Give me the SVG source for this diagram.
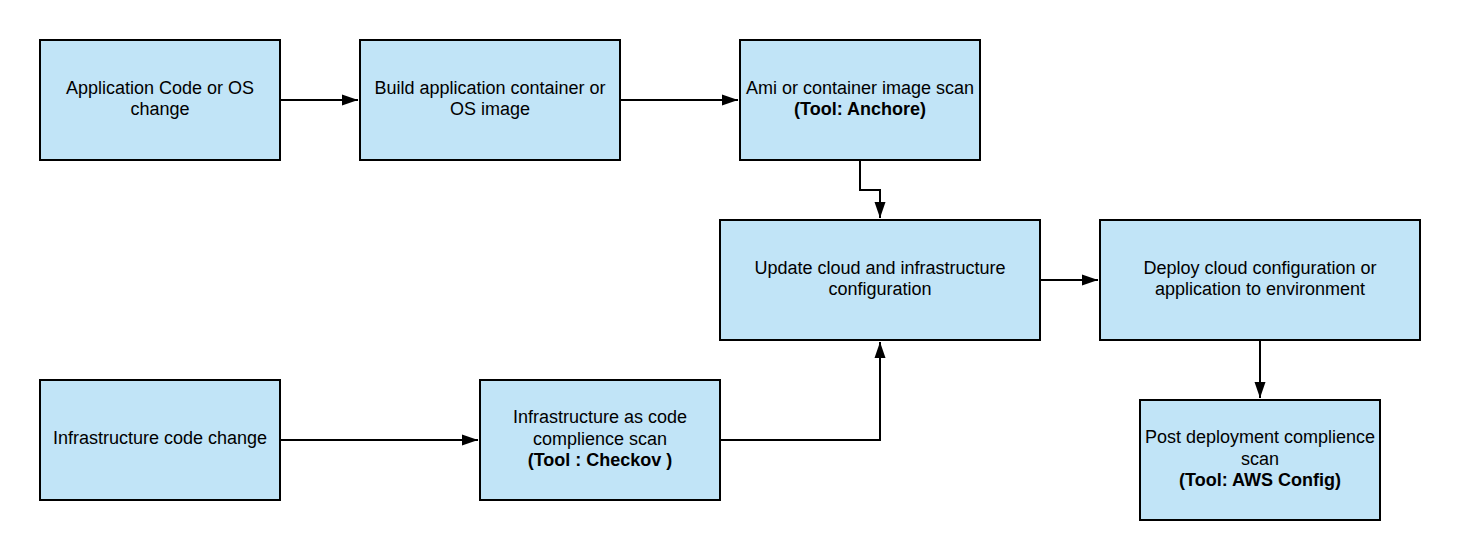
<svg xmlns="http://www.w3.org/2000/svg" width="1460" height="560" viewBox="0 0 1460 560">
<style>
.box{fill:#c1e4f7;stroke:#000;stroke-width:2}
.t{font-family:"Liberation Sans",Arial,sans-serif;font-size:18px;fill:#000;text-anchor:middle}
.b{font-weight:bold}
.c{fill:none;stroke:#000;stroke-width:2}
</style>
<defs>
<marker id="ah" markerWidth="16" markerHeight="12" refX="16" refY="6" orient="auto" markerUnits="userSpaceOnUse">
<path d="M0,0.5 L16,6 L0,11.5 Z" fill="#000"/>
</marker>
</defs>
<rect width="1460" height="560" fill="#fff"/>
<g id="connectors">
<path class="c" d="M280,100 H358" marker-end="url(#ah)"/>
<path class="c" d="M620,100 H738" marker-end="url(#ah)"/>
<path class="c" d="M860,160 V190 H880 V218" marker-end="url(#ah)"/>
<path class="c" d="M1040,280 H1098" marker-end="url(#ah)"/>
<path class="c" d="M1260,340 V398" marker-end="url(#ah)"/>
<path class="c" d="M280,440 H478" marker-end="url(#ah)"/>
<path class="c" d="M720,440 H880 V342" marker-end="url(#ah)"/>
</g>
<g id="nodeA">
<rect class="box" x="40" y="40" width="240" height="120"/>
<text class="t" x="160" y="94">Application Code or OS</text>
<text class="t" x="160" y="115">change</text>
</g>
<g id="nodeB">
<rect class="box" x="360" y="40" width="260" height="120"/>
<text class="t" x="490" y="94">Build application container or</text>
<text class="t" x="490" y="115">OS image</text>
</g>
<g id="nodeC">
<rect class="box" x="740" y="40" width="240" height="120"/>
<text class="t" x="860" y="94">Ami or container image scan</text>
<text class="t b" x="860" y="115">(Tool: Anchore)</text>
</g>
<g id="nodeD">
<rect class="box" x="720" y="220" width="320" height="120"/>
<text class="t" x="880" y="274">Update cloud and infrastructure</text>
<text class="t" x="880" y="295">configuration</text>
</g>
<g id="nodeE">
<rect class="box" x="1100" y="220" width="320" height="120"/>
<text class="t" x="1260" y="274">Deploy cloud configuration or</text>
<text class="t" x="1260" y="295">application to environment</text>
</g>
<g id="nodeF">
<rect class="box" x="1140" y="400" width="240" height="120"/>
<text class="t" x="1260" y="443">Post deployment complience</text>
<text class="t" x="1260" y="465">scan</text>
<text class="t b" x="1260" y="486">(Tool: AWS Config)</text>
</g>
<g id="nodeG">
<rect class="box" x="40" y="380" width="240" height="120"/>
<text class="t" x="160" y="444">Infrastructure code change</text>
</g>
<g id="nodeH">
<rect class="box" x="480" y="380" width="240" height="120"/>
<text class="t" x="600" y="423">Infrastructure as code</text>
<text class="t" x="600" y="445">complience scan</text>
<text class="t b" x="600" y="466">(Tool : Checkov )</text>
</g>
</svg>
